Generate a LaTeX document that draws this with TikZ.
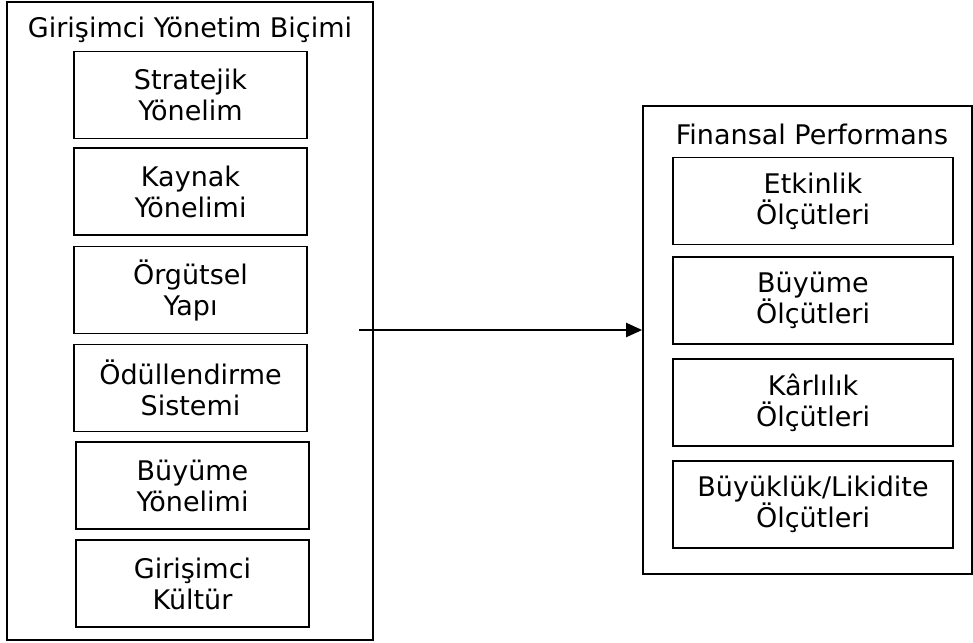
\documentclass[tikz,border=0pt]{standalone}
\usepackage{fontspec}
\setmainfont{DejaVu Sans}
\usetikzlibrary{arrows.meta,positioning}

\begin{document}
\begin{tikzpicture}[x=1pt,y=-1pt,
        font=\fontsize{27}{31}\selectfont,
        dis/.style={draw,line width=1.7pt,inner sep=0pt},
        kutu/.style={draw,line width=1.8pt,inner sep=0pt,align=center,
            minimum height=87pt}]
        % Sayfa: 973 x 642
        \useasboundingbox (0,0) rectangle (973,642);

        % Sol dış kutu
        \node[dis,minimum width=366pt,minimum height=638pt] (gyb) at (190,321) {};
        \node (gybbaslik) at (190,30) {Girişimci Yönetim Biçimi};

        \node[kutu,minimum width=233pt] (strateji) at (190.5,95) {Stratejik\\Yönelim};
        \node[kutu,minimum width=233pt] (kaynak) at (190.5,191.5) {Kaynak\\Yönelimi};
        \node[kutu,minimum width=233pt] (orgut) at (190.5,290) {Örgütsel\\Yapı};
        \node[kutu,minimum width=233pt] (odul) at (190.5,388) {Ödüllendirme\\Sistemi};
        \node[kutu,minimum width=233pt] (buyume) at (192.5,485.5) {Büyüme\\Yönelimi};
        \node[kutu,minimum width=233pt] (kultur) at (192.5,583.5) {Girişimci\\Kültür};

        % Sağ dış kutu
        \node[dis,minimum width=329pt,minimum height=468pt] (fp) at (807.5,340) {};
        \node (fpbaslik) at (812,134) {Finansal Performans};

        \node[kutu,minimum width=280pt] (etkinlik) at (813,201) {Etkinlik\\Ölçütleri};
        \node[kutu,minimum width=280pt] (buyolc) at (813,300.5) {Büyüme\\Ölçütleri};
        \node[kutu,minimum width=280pt] (karlilik) at (813,402.5) {Kârlılık\\Ölçütleri};
        \node[kutu,minimum width=280pt] (buyukluk) at (813,504.5) {Büyüklük/Likidite\\Ölçütleri};

        % Ok
        \coordinate (okbas) at (359,330);
        \draw[line width=2.2pt,-{Triangle[length=16pt,width=14pt]}] (okbas) -- (okbas -| fp.west);
    \end{tikzpicture}
\end{document}
